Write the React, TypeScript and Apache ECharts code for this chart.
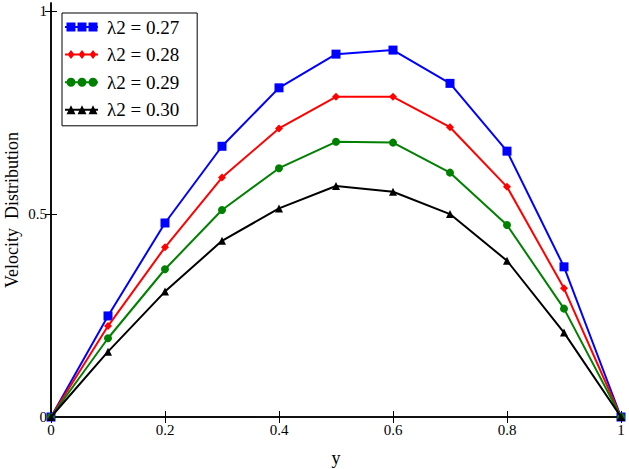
import React, { useEffect, useRef } from "react";
import * as echarts from "echarts";

const yPositions = [0, 0.1, 0.2, 0.3, 0.4, 0.5, 0.6, 0.7, 0.8, 0.9, 1];
const seriesNames = ["λ2 = 0.27", "λ2 = 0.28", "λ2 = 0.29", "λ2 = 0.30"];
const vel027 = [0, 0.249, 0.478, 0.667, 0.811, 0.894, 0.904, 0.822, 0.655, 0.37, 0];
const vel028 = [0, 0.224, 0.418, 0.59, 0.711, 0.789, 0.789, 0.714, 0.567, 0.317, 0];
const vel029 = [0, 0.194, 0.364, 0.51, 0.613, 0.678, 0.676, 0.602, 0.473, 0.267, 0];
const vel030 = [0, 0.161, 0.309, 0.434, 0.514, 0.569, 0.555, 0.5, 0.385, 0.208, 0];
const xTicks = [0, 0.2, 0.4, 0.6, 0.8, 1];
const yTickLabels = [0, 0.5, 1];

const FONT = "Liberation Serif";

const centers = [6, 17, 28];
const lineBar = "M0 3.5H33V5.5H0Z";
const squareIcon =
  "path://" + lineBar + centers.map((c) => `M${c - 4.5} 0H${c + 4.5}V9H${c - 4.5}Z`).join("");
const diamondIcon =
  "path://" + lineBar + centers.map((c) => `M${c - 3.5} 4.5L${c} 0L${c + 3.5} 4.5L${c} 9Z`).join("");
const circleIcon =
  "path://" +
  lineBar +
  centers.map((c) => `M${c - 4.5} 4.5A4.5 4.5 0 1 1 ${c + 4.5} 4.5A4.5 4.5 0 1 1 ${c - 4.5} 4.5Z`).join("");
const triangleIcon =
  "path://" + lineBar + centers.map((c) => `M${c - 4.5} 9L${c} 0L${c + 4.5} 9Z`).join("");

const colors = ["#0000ff", "#ff0000", "#008000", "#000000"];
const symbols = ["rect", "diamond", "circle", "triangle"];
const symbolSizes = [9, 8, 8, 8];
const icons = [squareIcon, diamondIcon, circleIcon, triangleIcon];
const values = [vel027, vel028, vel029, vel030];

export default function App() {
  const ref = useRef<HTMLDivElement>(null);
  useEffect(() => {
    if (!ref.current) return;
    document.body.style.margin = "0";
    const chart = echarts.init(ref.current, null, { renderer: "svg" });
    const axisLine = { show: true, lineStyle: { color: "#000", width: 1.5 } };
    chart.setOption({
      animation: false,
      backgroundColor: "#fff",
      textStyle: { fontFamily: FONT },
      grid: { left: 51, right: 8, top: 3, bottom: 52, containLabel: false, outerBoundsMode: "none" },
      legend: {
        left: 62,
        top: 13,
        orient: "vertical",
        backgroundColor: "#fff",
        borderColor: "#000",
        borderWidth: 1,
        borderRadius: 0,
        padding: [4, 18, 6, 3],
        itemWidth: 33,
        itemHeight: 9,
        itemGap: 7.6,
        itemStyle: { borderWidth: 0 },
        textStyle: { fontFamily: FONT, fontSize: 19, color: "#000", lineHeight: 20, padding: [0, 0, 0, 4] },
        data: seriesNames.map((n, i) => ({ name: n, icon: icons[i] })),
      },
      xAxis: [
        {
          type: "value",
          min: 0,
          max: 1,
          interval: 0.2,
          name: "y",
          nameLocation: "middle",
          nameGap: 32,
          nameMoveOverlap: false,
          nameTextStyle: { fontFamily: FONT, fontSize: 18, color: "#000" },
          axisLine,
          axisTick: { show: true, inside: true, length: 6, lineStyle: { color: "#000" } },
          axisLabel: {
            fontFamily: FONT,
            fontSize: 15,
            color: "#000",
            margin: 5,
            customValues: xTicks,
            formatter: (v: number) => String(v),
          },
          splitLine: { show: false },
        },
        {
          type: "value",
          position: "top",
          min: 0,
          max: 1,
          interval: 0.2,
          axisLine,
          axisTick: { show: true, inside: true, length: 6, lineStyle: { color: "#000" } },
          axisLabel: { show: false },
          splitLine: { show: false },
        },
      ],
      yAxis: [
        {
          type: "value",
          min: 0,
          max: 1.02,
          interval: 0.5,
          name: "Velocity  Distribution",
          nameLocation: "middle",
          nameGap: 30,
          nameMoveOverlap: false,
          nameTextStyle: { fontFamily: FONT, fontSize: 18, color: "#000" },
          axisLine,
          axisTick: { show: true, inside: true, length: 6, customValues: [0.5, 1], lineStyle: { color: "#000" } },
          axisLabel: {
            fontFamily: FONT,
            fontSize: 15,
            color: "#000",
            margin: 4,
            customValues: yTickLabels,
            formatter: (v: number) => String(v),
          },
          splitLine: { show: false },
        },
        {
          type: "value",
          position: "right",
          min: 0,
          max: 1.02,
          interval: 0.5,
          axisLine,
          axisTick: { show: true, inside: true, length: 6, customValues: [0.5, 1], lineStyle: { color: "#000" } },
          axisLabel: { show: false },
          splitLine: { show: false },
        },
      ],
      series: seriesNames.map((name, i) => ({
        name,
        type: "line",
        data: yPositions.map((x, j) => [x, values[i][j]]),
        symbol: symbols[i],
        symbolSize: symbolSizes[i],
        showSymbol: true,
        color: colors[i],
        itemStyle: { color: colors[i] },
        lineStyle: { color: colors[i], width: 2 },
        z: 2 + i,
      })),
    });
    return () => chart.dispose();
  }, []);
  return <div ref={ref} style={{ width: 629, height: 469 }} />;
}
